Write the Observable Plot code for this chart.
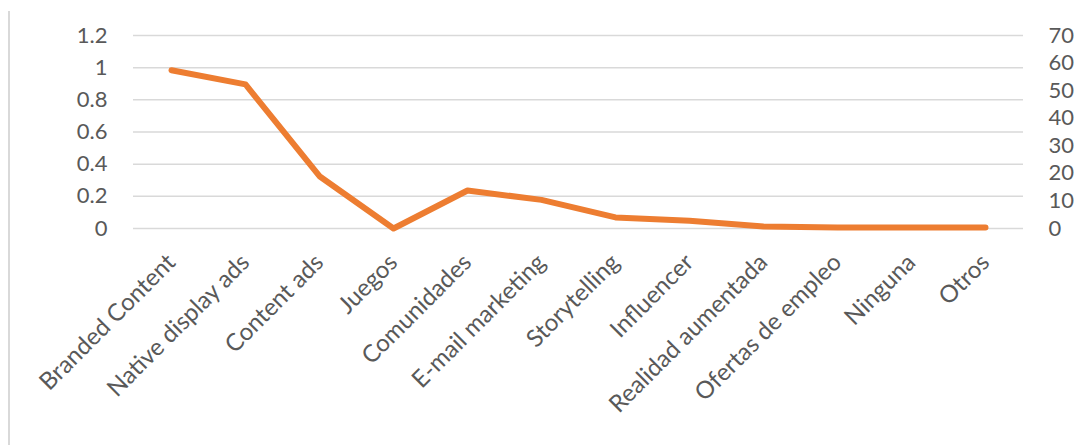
<!DOCTYPE html>
<html>
<head>
<meta charset="utf-8">
<script src="https://cdn.jsdelivr.net/npm/d3@7"></script>
<script src="https://cdn.jsdelivr.net/npm/@observablehq/plot@0.6"></script>
<style>
  html, body { margin: 0; padding: 0; background: #fff; }
  #wrap { position: relative; width: 1084px; height: 445px; overflow: hidden; }
  #border { position: absolute; left: 8px; top: 11px; width: 2px; height: 440px; background: #d9d9d9; }
</style>
</head>
<body>
<div id="wrap"><div id="border"></div></div>
<script>
const categories = ["Branded Content", "Native display ads", "Content ads", "Juegos", "Comunidades", "E-mail marketing", "Storytelling", "Influencer", "Realidad aumentada", "Ofertas de empleo", "Ninguna", "Otros"];
const values = [0.984, 0.896, 0.325, 0, 0.236, 0.178, 0.069, 0.048, 0.0125, 0.006, 0.006, 0.006];
const leftTicks = [0, 0.2, 0.4, 0.6, 0.8, 1, 1.2];
const rightTickLabels = [0, 10, 20, 30, 40, 50, 60, 70];
const rightMax = 70;
const leftMax = 1.2;

const data = categories.map((c, i) => ({category: c, value: values[i]}));
const font = "Lato, 'Open Sans', sans-serif";

const chart = Plot.plot({
  width: 1084,
  height: 445,
  marginTop: 35,
  marginBottom: 217,
  marginLeft: 133,
  marginRight: 61,
  style: {fontFamily: font, fontSize: "22px", color: "#595959", background: "transparent"},
  x: {type: "point", domain: categories, padding: 0.5, label: null},
  y: {domain: [0, leftMax], label: null},
  marks: [
    Plot.gridY(leftTicks, {stroke: "#d9d9d9", strokeOpacity: 1, strokeWidth: 1.5}),
    Plot.axisY(leftTicks, {anchor: "left", label: null, tickSize: 0, tickPadding: 26, tickFormat: d => String(+d.toFixed(1)), fill: "#595959", fontSize: 22}),
    Plot.axisY(rightTickLabels.map(v => v * leftMax / rightMax), {anchor: "right", label: null, tickSize: 0, tickPadding: 25, tickFormat: d => String(Math.round(d * rightMax / leftMax)), fill: "#595959", fontSize: 22}),
    Plot.axisX({anchor: "bottom", label: null, tickSize: 0, tickPadding: 30, tickRotate: -45, fill: "#595959", fontSize: 24}),
    Plot.line(data, {x: "category", y: "value", stroke: "#ed7d31", strokeWidth: 6, strokeLinejoin: "round", strokeLinecap: "round"})
  ]
});
document.getElementById("wrap").appendChild(chart);
chart.style.position = "absolute";
chart.style.left = "0px";
chart.style.top = "0px";
</script>
</body>
</html>
